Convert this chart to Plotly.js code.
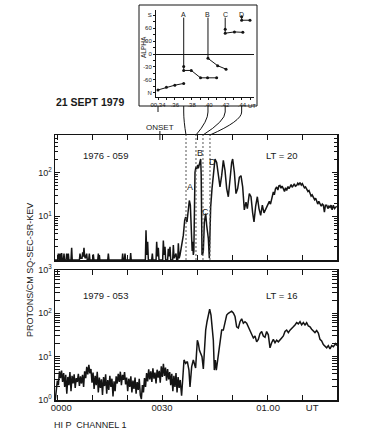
<!DOCTYPE html>
<html><head><meta charset="utf-8">
<script src="https://cdn.plot.ly/plotly-3.0.1.min.js"></script>
<style>html,body{margin:0;padding:0;background:#fff}#chart{width:365px;height:447px}</style>
</head><body><div id="chart"></div>
<script>
// ---------- DATA (time in minutes after 00:00 UT, flux in protons/cm2-s-sr-keV) ----------
const topTime = [
 -0.57,0.2,0.38,0.55,0.7,0.86,1.0,1.15,1.33,1.5,1.85,2.0,2.15,2.6,2.76,2.9,3.1,3.24,3.4,4.0,4.19,4.35,
 6.4,6.57,6.75,7.15,7.33,7.5,7.71,7.9,8.1,8.48,8.65,9.05,9.24,9.4,10.2,10.38,10.55,11.65,11.81,11.95,12.1,12.25,
 14.5,14.67,14.85,18.6,18.76,18.9,19.25,19.43,19.6,20.9,21.05,21.2,25.25,25.43,25.65,25.9,26.1,27.05,27.24,27.4,
 28.3,28.48,28.7,28.95,29.15,30.2,30.38,30.6,30.86,31.05,31.6,31.81,32.0,32.29,32.5,33.05,33.24,33.45,34.0,34.2,34.5,34.67,34.9,35.14,
 35.62,36.1,36.48,36.76,37.14,37.52,37.81,38.1,38.3,38.48,38.62,38.76,38.95,39.1,39.43,39.7,39.9,40.2,40.38,40.67,41.05,41.2,41.43,41.65,41.81,42.1,42.48,42.76,43.0,43.24,43.52,
 43.9,44.29,44.67,45.14,45.62,46.1,46.57,47.05,47.52,48.0,48.48,48.95,49.43,49.9,50.19,50.67,51.14,51.62,52.1,52.57,53.05,53.52,
 54.0,54.38,54.95,55.43,55.9,56.29,56.76,57.24,57.71,58.19,58.67,59.14,59.71,60.19,60.67,61.0,61.3,
 61.81,62.1,62.4,62.76,63.1,63.4,63.71,64.0,64.3,64.67,65.0,65.3,65.62,66.0,66.3,66.57,66.9,67.2,67.52,67.8,68.1,68.48,68.8,69.1,69.43,69.8,70.1,70.38,
 70.7,71.0,71.33,71.7,72.0,72.29,72.6,72.9,73.24,73.6,73.9,74.19,74.5,74.8,75.14,75.5,75.8,76.1,76.4,76.7,77.05,77.4,77.7,78.0,78.3,78.6,78.95,79.3,79.62,79.9
];
const topFlux = [
 1,1,1.4,1,1,1.4,1,1,1.45,1,1,1.4,1,1,1.4,1,1,1.4,1,1,1.9,1,
 1,1.4,1.1,1.1,1.5,1.2,1.9,1.2,1.1,1.4,1,1,1.4,1,1,1.35,1,1,1.4,1,1.3,1,
 1,1.4,1,1,1.4,1,1,1.4,1,1,1.45,1,1,4.8,1.3,2.6,1,1,1.4,1,
 1,2.6,1.2,1.9,1,1,2.8,1.3,2.0,1,1,1.8,1.2,2.0,1,1,2.2,1.1,1.4,1,1,2.4,1.1,1.3,
 2.2,3.7,8.1,9.6,7.4,13.8,23,18,6,2.8,1.6,2.6,1.3,1.6,102,135,120,150,125,170,204,90,1.3,1.4,1.6,7.4,11.5,6.3,4,3.1,1.1,
 16,43,102,204,170,85,47,85,190,112,43,28,85,170,204,102,33,43,78,85,47,14,
 21,15,33,28,12,7.4,17,28,15,10.5,18,12,15,18,22,19,25,
 36,31,42,47,40,50,51,44,49,43,37,45,39,48,43,47,53,46,51,55,49,51,57,53,59,52,56,51,
 45,47,43,37,39,33,29,31,28,24,26,23,19,22,20,17,19,18,12.5,18,18,15,17,16,18,14,18,15,16,17
];
const botTime = [
 -0.5,-0.2,0.1,0.4,0.7,1.0,1.3,1.6,1.9,2.2,
 2.5,2.8,3.1,3.4,3.7,4.0,4.3,4.6,4.9,5.2,
 5.5,5.8,6.1,6.4,6.7,7.0,7.3,7.6,7.9,8.2,
 8.5,8.8,9.1,9.4,9.7,10.0,10.3,10.6,10.9,11.2,
 11.5,11.8,12.1,12.4,12.7,13.0,13.3,13.6,13.9,14.2,
 14.5,14.8,15.1,15.4,15.7,16.0,16.3,16.6,16.9,17.2,
 17.5,17.8,18.1,18.4,18.7,19.0,19.3,19.6,19.9,20.2,
 20.5,20.8,21.1,21.4,21.7,22.0,22.3,22.6,22.9,23.2,
 23.5,23.8,24.1,24.4,24.7,25.0,25.3,25.6,25.9,26.2,
 26.5,26.8,27.1,27.4,27.7,28.0,28.3,28.6,28.9,29.2,
 29.5,29.8,30.1,30.4,30.7,31.0,31.3,31.6,31.9,32.2,
 32.5,32.8,33.1,33.4,33.7,34.0,34.3,34.6,34.9,35.2,
 35.6,
 36.29,36.76,37.24,37.7,38.0,38.48,38.95,39.3,39.6,40.1,40.4,40.7,41.05,41.43,41.81,42.1,42.48,42.86,43.24,43.62,
 44.0,44.38,44.67,44.95,45.24,45.52,45.9,46.29,46.67,47.05,47.52,
 48.0,48.48,48.95,49.43,49.9,50.38,50.86,51.33,51.81,52.29,52.76,53.24,53.71,54.19,54.67,55.14,55.62,56.1,56.57,57.05,
 57.52,58.0,58.48,58.95,59.43,59.9,60.38,60.86,61.33,61.81,62.29,62.76,63.24,63.71,64.19,64.67,65.14,65.62,66.1,66.57,
 67.05,67.52,68.0,68.48,68.95,69.43,69.9,70.38,70.86,71.33,71.81,72.29,72.76,73.24,73.71,74.19,74.67,75.14,75.62,76.1,
 76.57,77.05,77.52,78.0,78.48,78.95,79.62,79.95
];
const botFlux = [
 1.0,1.6,2.8,2.2,4.6,3.2,4.8,2.6,4.2,2.0,
 3.8,1.4,3.4,2.2,4.4,1.6,3.6,2.4,3.9,1.9,
 3.2,2.6,4.0,2.1,3.5,2.4,3.8,2.0,4.6,3.2,
 5.8,3.9,6.5,4.1,5.2,2.5,4.3,1.8,3.6,2.2,
 4.5,1.5,3.3,1.9,3.0,1.3,3.4,2.1,3.9,1.4,
 2.9,1.7,3.6,2.0,3.1,1.2,2.7,1.6,3.5,2.4,
 4.0,2.6,4.5,2.2,3.8,2.9,4.4,2.3,3.3,1.6,
 3.1,2.0,3.5,1.5,2.8,1.8,3.3,1.4,2.6,1.7,
 3.1,1.3,1.05,2.2,1.5,3.2,2.0,4.2,2.7,5.1,
 3.0,4.6,2.6,5.4,3.1,4.3,2.4,5.0,3.3,4.7,
 2.5,6.0,3.4,6.8,3.6,5.6,2.8,5.2,3.0,4.4,
 2.2,4.0,1.6,3.6,2.0,4.2,1.5,3.4,1.9,2.9,
 1.25,
 8.4,7.0,7.7,4.9,2.0,5.9,8.4,6,5.5,24,20,14,12,10,5.2,17,41,64,100,125,
 91,49,24,4.9,8.4,4.9,8.4,17,29,41,41,
 64,91,100,108,112,102,85,49,46,64,75,59,64,59,49,41,32,27,30,22,
 25,34,38,30,28,38,32,16,21,25,21,24,22,25,27,30,38,41,36,41,
 46,49,54,61,57,64,54,61,54,61,51,49,43,40,36,40,35,25,23,19,
 17,16,18,15,18,17,20,18
];
// x tick labels of the lower panel
const xTickText = ['0000','0030','01.00','UT'];
const xTickPos  = [1.2, 30, 60.3, 72.9];
// event markers A-D (main time axis) and onset
const eventNames = ['A','B','C','D'];
const eventTime  = [36.86, 39.71, 41.71, 43.71];
const onsetTime  = 29.4;
// inset: pitch angle ALPHA (deg) vs time (minutes past 00 UT)
const insetEventTime = [37.06, 39.95, 42.0, 43.96];
const insetEventTop  = [84, 84, 84];
const insetEventBot  = [-29, -10, 57];
const inset0T = [34.0, 35.0, 36.0, 37.06];   const inset0A = [-83, -77, -72, -68];
const insetAT = [37.06, 37.06, 37.96, 39.06, 39.9, 40.98]; const insetAA = [-29, -38, -38, -55, -55, -55];
const insetBT = [39.95, 41.1, 42.1];          const insetBA = [-10, -27, -35];
const insetCT = [42.0, 42.0, 43.1, 44.1];     const insetCA = [57, 48, 51, 50];
const insetDT = [43.96, 43.96, 44.95];        const insetDA = [86, 78, 78];
const insetXTicks = [34,36,38,40,42,44];
const insetXText  = ['00.34','.36','.38','.40','.42','.44'];
const insetYTicks = [90,60,30,0,-30,-60,-90];
const insetYText  = ['S','60','30','0','-30','-60','N'];

// ---------- LAYOUT GEOMETRY ----------
const W=365,H=447;
const px=x=>x/W, py=y=>1-y/H;
const mainDom=[px(55),px(337)], mainRange=[-0.57,80];
const topDom=[py(260),py(135)], botDom=[py(400),py(270)];
const insDomX=[px(156),px(254)], insDomY=[py(97),py(10)];
const insRangeX=[33.76,45.43], insRangeY=[-99.3,101.6];
const mainX=t=>mainDom[0]+(t-mainRange[0])/(mainRange[1]-mainRange[0])*(mainDom[1]-mainDom[0]);
const insX=t=>insDomX[0]+(t-insRangeX[0])/(insRangeX[1]-insRangeX[0])*(insDomX[1]-insDomX[0]);

const FONT='Liberation Sans, Arial, sans-serif';
const INK='#141414';
const line={color:INK,width:1.5};

const traces=[
 {x:topTime,y:topFlux,xaxis:'x',yaxis:'y',mode:'lines',line:line,hoverinfo:'skip'},
 {x:botTime,y:botFlux,xaxis:'x2',yaxis:'y2',mode:'lines',line:line,hoverinfo:'skip'},
 {x:[],y:[],xaxis:'x4',yaxis:'y2',mode:'lines'}
];
// inset vertical event lines
const vx=[],vy=[];
for(let i=0;i<insetEventBot.length;i++){vx.push(insetEventTime[i],insetEventTime[i],null);vy.push(insetEventTop[i],insetEventBot[i],null);}
traces.push({x:vx,y:vy,xaxis:'x3',yaxis:'y3',mode:'lines',line:{color:INK,width:1},hoverinfo:'skip'});
[[inset0T,inset0A],[insetAT,insetAA],[insetBT,insetBA],[insetCT,insetCA],[insetDT,insetDA]].forEach(s=>{
 traces.push({x:s[0],y:s[1],xaxis:'x3',yaxis:'y3',mode:'lines+markers',line:{color:INK,width:1},marker:{size:3,color:INK},hoverinfo:'skip'});
});

const tickFont={family:FONT,size:9,color:'#222'};
const mainAx=(anchor,dom)=>({domain:dom,anchor:anchor,range:mainRange,showline:true,linewidth:1.5,linecolor:INK,mirror:'allticks',
 ticks:'inside',tick0:0,dtick:10,ticklen:5,tickcolor:INK,showticklabels:false,showgrid:false,zeroline:false});
const logAx=(anchor,dom,range,vals,text)=>({domain:dom,anchor:anchor,type:'log',range:range,showline:true,linewidth:1.5,linecolor:INK,mirror:'allticks',
 tickmode:'array',tickvals:vals,ticktext:text,ticks:'inside',ticklen:5,tickcolor:INK,tickfont:tickFont,showgrid:false,zeroline:false,
 minor:{ticks:'inside',ticklen:3,tickcolor:INK,dtick:'D1',showgrid:false}});

const shapes=[
 {type:'rect',xref:'paper',yref:'paper',x0:px(139),x1:px(257),y0:py(106),y1:py(5),line:{color:INK,width:1}},
 {type:'line',xref:'paper',yref:'paper',x0:insX(34),x1:insX(34),y0:py(106),y1:py(112),line:{color:INK,width:1}},
 {type:'line',xref:'x',yref:'paper',x0:onsetTime,x1:onsetTime,y0:py(131),y1:py(140),line:{color:INK,width:1}}
];
for(let i=0;i<eventTime.length;i++){
 shapes.push({type:'line',xref:'x',yref:'paper',x0:eventTime[i],x1:eventTime[i],y0:topDom[0],y1:topDom[1],line:{color:'#555',width:1,dash:'2px,2px'}});
 const xi=insX(insetEventTime[i]), xm=mainX(eventTime[i]);
 shapes.push({type:'path',xref:'paper',yref:'paper',
  path:`M${xi},${py(106)} L${xi},${py(112)} Q${xi},${py(121)} ${xm},${py(135)}`,line:{color:INK,width:1}});
}

const ann=(x,y,text,size,extra)=>Object.assign({xref:'paper',yref:'paper',x:x,y:y,text:text,showarrow:false,
 font:{family:FONT,size:size,color:'#1a1a1a'},xanchor:'center',yanchor:'middle'},extra||{});
const annotations=[
 ann(px(90),py(102),'<b>21 SEPT 1979</b>',10.5),
 ann(px(160),py(127),'ONSET',8),
 ann(px(106),py(155),'1976 - 059',9.5),
 ann(px(282),py(155),'LT = 20',9.5),
 ann(px(106),py(295),'1979 - 053',9.5),
 ann(px(282),py(295),'LT = 16',9.5),
 ann(px(52),py(425),'HI P  CHANNEL 1',9,{xanchor:'left'}),
 ann(px(30),py(270),'PROTONS/CM SQ-SEC-SR-KEV',9,{textangle:-90}),
 ann(px(143),py(47),'ALPHA',6.5,{textangle:-90}),
 {xref:'x3',yref:'paper',x:45.2,y:py(101),text:'UT',showarrow:false,font:{family:FONT,size:6,color:'#222'}}
];
const topLabelPos=[[38.0,1.68],[40.86,2.45],[42.57,1.09],[44.57,2.25]];
eventNames.forEach((n,i)=>{
 annotations.push({xref:'x',yref:'y',x:topLabelPos[i][0],y:topLabelPos[i][1],text:n,showarrow:false,font:{family:FONT,size:9,color:'#1a1a1a'}});
 annotations.push({xref:'x3',yref:'y3',x:insetEventTime[i],y:92,text:n,showarrow:false,font:{family:FONT,size:7,color:'#1a1a1a'}});
});

const layout={
 width:W,height:H,margin:{l:0,r:0,t:0,b:0},paper_bgcolor:'#fff',plot_bgcolor:'rgba(0,0,0,0)',showlegend:false,
 xaxis:mainAx('y',mainDom),
 yaxis:logAx('x',topDom,[0,2.86],[10,100],['10<sup>1</sup>','10<sup>2</sup>']),
 xaxis2:mainAx('y2',mainDom),
 yaxis2:logAx('x2',botDom,[0,3],[1,10,100,1000],['10<sup>0</sup>','10<sup>1</sup>','10<sup>2</sup>','10<sup>3</sup>']),
 xaxis4:{overlaying:'x2',anchor:'y2',side:'bottom',range:mainRange,tickmode:'array',tickvals:xTickPos,ticktext:xTickText,
  ticks:'',showline:false,showgrid:false,zeroline:false,tickfont:{family:FONT,size:9.5,color:'#222'}},
 xaxis3:{domain:insDomX,anchor:'y3',range:insRangeX,tickmode:'array',tickvals:insetXTicks,ticktext:insetXText,
  showline:true,linecolor:INK,linewidth:1,ticks:'outside',ticklen:2,tickcolor:INK,showgrid:false,zeroline:false,
  tickfont:{family:FONT,size:6,color:'#222'},minor:{dtick:1,tick0:0,ticks:'outside',ticklen:2,tickcolor:INK}},
 yaxis3:{domain:insDomY,anchor:'x3',range:insRangeY,tickmode:'array',tickvals:insetYTicks,ticktext:insetYText,
  showline:true,linecolor:INK,linewidth:1,ticks:'outside',ticklen:2,tickcolor:INK,showgrid:false,
  zeroline:true,zerolinecolor:INK,zerolinewidth:1,
  tickfont:{family:FONT,size:6,color:'#222'},minor:{dtick:15,tick0:0,ticks:'outside',ticklen:2,tickcolor:INK}},
 shapes:shapes,annotations:annotations
};
Plotly.newPlot('chart',traces,layout,{displayModeBar:false,staticPlot:true});
</script></body></html>
